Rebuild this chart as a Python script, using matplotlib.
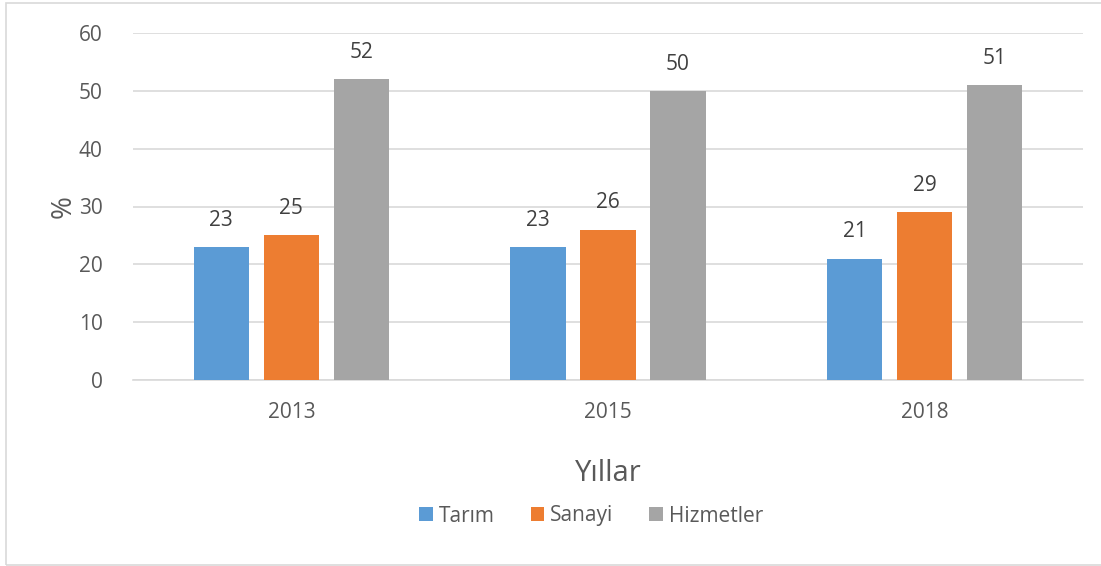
import matplotlib.pyplot as plt
import numpy as np
from matplotlib.patches import Rectangle

years = ["2013", "2015", "2018"]
tarim = [23, 23, 21]
sanayi = [25, 26, 29]
hizmetler = [52, 50, 51]
series_names = ["Tarım", "Sanayi", "Hizmetler"]
colors = ["#5B9BD5", "#ED7D31", "#A5A5A5"]

plt.rcParams['font.family'] = ['Open Sans', 'DejaVu Sans']
text_color = "#595959"

fig = plt.figure(figsize=(11.01, 5.66), dpi=100)
ax = fig.add_axes([133 / 1101, 1 - 380 / 566, 950 / 1101, 347 / 566])

x = np.arange(len(years))
width = 0.174
offset = 0.221
for i, (vals, name, c) in enumerate(zip([tarim, sanayi, hizmetler], series_names, colors)):
    pos = x + (i - 1) * offset
    bars = ax.bar(pos, vals, width, color=c, label=name, zorder=3)
    for b, v in zip(bars, vals):
        ax.text(b.get_x() + b.get_width() / 2, v + 2.8, str(v),
                ha="center", va="bottom", fontsize=15, color="#404040")

ax.set_xlim(-0.5, 2.5)
ax.set_ylim(0, 60)
ax.set_yticks(range(0, 61, 10))
ax.set_xticks(x)
ax.set_xticklabels(years)
ax.grid(axis="y", color="#D9D9D9", linewidth=1.2, zorder=0)
for s in ["top", "right", "left"]:
    ax.spines[s].set_visible(False)
ax.spines["bottom"].set_color("#D9D9D9")
ax.spines["bottom"].set_linewidth(1.2)
ax.tick_params(axis="both", length=0, labelsize=15, colors=text_color)
ax.tick_params(axis="y", pad=22)
ax.tick_params(axis="x", pad=16)

ax.set_xlabel("Yıllar", fontsize=21, color=text_color, labelpad=26)
ax.set_ylabel("%", fontsize=20, color=text_color, labelpad=1)

leg = fig.legend(loc="center", bbox_to_anchor=(0.537, 1 - 516 / 566), ncol=3,
                 frameon=False, fontsize=15, handlelength=0.65, handleheight=0.65,
                 handletextpad=0.3, columnspacing=1.7, labelcolor=text_color)

# outer chart border
fig.add_artist(Rectangle((5.5 / 1101, 1 / 566), 1.2, 1 - 4 / 566,
                         transform=fig.transFigure, fill=False,
                         edgecolor="#D9D9D9", linewidth=1.2))

fig.savefig("out.png", dpi=100)
